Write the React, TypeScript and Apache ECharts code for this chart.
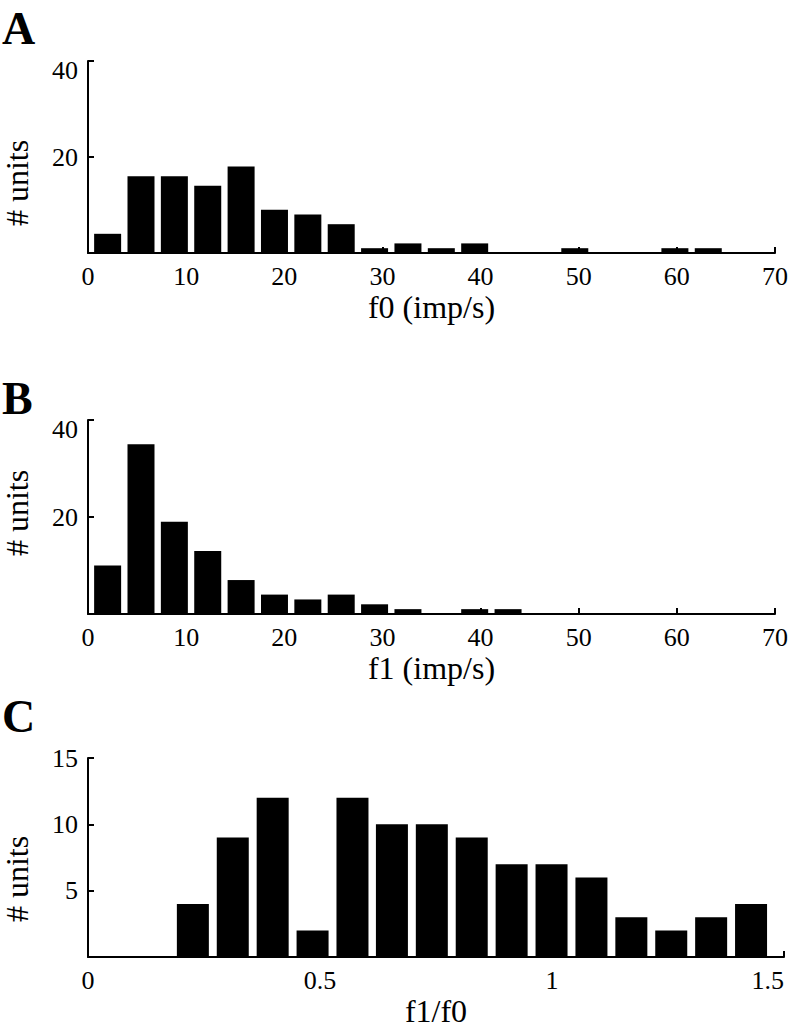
import React, { useEffect, useRef } from "react";
import * as echarts from "echarts";

// Bin centres (imp/s) for panels A and B
const rateBinCenters = [2.0, 5.4, 8.8, 12.2, 15.6, 19.0, 22.4, 25.8, 29.2, 32.6, 36.0, 39.4, 42.8, 46.2, 49.6, 53.0, 56.4, 59.8, 63.2];
// Panel A: f0 histogram counts
const f0Counts = [4, 16, 16, 14, 18, 9, 8, 6, 1, 2, 1, 2, 0, 0, 1, 0, 0, 1, 1];
// Panel B: f1 histogram counts
const f1Counts = [10, 35, 19, 13, 7, 4, 3, 4, 2, 1, 0, 1, 1, 0, 0, 0, 0, 0, 0];
// Panel C: f1/f0 bin centres and counts
const ratioBinCenters = [0.226, 0.312, 0.398, 0.484, 0.570, 0.655, 0.741, 0.827, 0.913, 0.999, 1.085, 1.171, 1.257, 1.343, 1.429];
const ratioCounts = [4, 9, 12, 2, 12, 10, 10, 9, 7, 7, 6, 3, 2, 3, 4];

const panelLetters = ["A", "B", "C"];
const xNames = ["f0 (imp/s)", "f1 (imp/s)", "f1/f0"];
const yName = "# units";

const FONT = "'Liberation Serif', 'Times New Roman', serif";

export default function App() {
  const ref = useRef<HTMLDivElement>(null);
  useEffect(() => {
    if (!ref.current) return;
    const chart = echarts.init(ref.current, null, { renderer: "svg" });
    const grids = [
      { left: 88, top: 61, width: 691, height: 192 },
      { left: 88, top: 420, width: 691, height: 194 },
      { left: 88, top: 758, width: 696, height: 199 },
    ];
    const axisLine = { show: true, lineStyle: { color: "#000", width: 2 } };
    const axisTick = { show: true, inside: true, length: 6, lineStyle: { color: "#000", width: 2 } };
    const LBL = 26;
    const xLabel = { color: "#000", fontFamily: FONT, fontSize: LBL, margin: 10 };
    const nameStyle = { color: "#000", fontFamily: FONT, fontSize: 32 };
    const yMaxLabel = (max: number) => ({
      color: "#000",
      fontFamily: FONT,
      fontSize: LBL,
      margin: 10,
      showMinLabel: false,
      formatter: (v: number) => (v === max ? `{t|${v}}` : `${v}`),
      rich: { t: { padding: [18, 0, 0, 0], fontFamily: FONT, fontSize: LBL, color: "#000" } },
    });

    const xAxes = [
      { min: 0, max: 70, interval: 10 },
      { min: 0, max: 70, interval: 10 },
      { min: 0, max: 1.5, interval: 0.5 },
    ].map((a, i) => ({
      type: "value",
      gridIndex: i,
      ...a,
      splitLine: { show: false },
      axisLine,
      axisTick,
      axisLabel: { ...xLabel, alignMaxLabel: i === 2 ? "right" : undefined },
      name: xNames[i],
      nameLocation: "middle",
      nameGap: 38,
      nameTextStyle: nameStyle,
    }));

    const yAxes = [
      { min: 0, max: 40, interval: 20, axisLabel: yMaxLabel(40) },
      { min: 0, max: 40, interval: 20, axisLabel: yMaxLabel(40) },
      {
        min: 0, max: 15, interval: 5,
        axisLabel: { color: "#000", fontFamily: FONT, fontSize: LBL, margin: 10, showMinLabel: false },
      },
    ].map((a, i) => ({
      type: "value",
      gridIndex: i,
      ...a,
      splitLine: { show: false },
      axisLine,
      axisTick,
    }));

    const mk = (xs: number[], ys: number[]) => xs.map((x, i) => [x, ys[i]]);
    const barStyle = { color: "#000" };

    const letterY = [28, 398, 716];
    const yNameY = [183, 513, 879];
    const graphics: any[] = [];
    panelLetters.forEach((l, i) => {
      graphics.push({
        type: "text",
        x: 2,
        y: letterY[i],
        style: {
          text: l,
          fill: "#000",
          fontFamily: FONT,
          fontWeight: "bold",
          fontSize: 46,
          textAlign: "left",
          textVerticalAlign: "middle",
        },
      });
      graphics.push({
        type: "text",
        x: 17,
        y: yNameY[i],
        rotation: Math.PI / 2,
        style: {
          text: yName,
          fill: "#000",
          fontFamily: FONT,
          fontSize: 32,
          textAlign: "center",
          textVerticalAlign: "middle",
        },
      });
    });

    chart.setOption({
      animation: false,
      backgroundColor: "#fff",
      textStyle: { fontFamily: FONT },
      grid: grids,
      xAxis: xAxes,
      yAxis: yAxes,
      series: [
        { type: "bar", xAxisIndex: 0, yAxisIndex: 0, data: mk(rateBinCenters, f0Counts), barWidth: 27, itemStyle: barStyle },
        { type: "bar", xAxisIndex: 1, yAxisIndex: 1, data: mk(rateBinCenters, f1Counts), barWidth: 27, itemStyle: barStyle },
        { type: "bar", xAxisIndex: 2, yAxisIndex: 2, data: mk(ratioBinCenters, ratioCounts), barWidth: 32, itemStyle: barStyle },
      ],
      graphic: graphics,
    });
    return () => chart.dispose();
  }, []);
  return (
    <div
      ref={ref}
      style={{ position: "absolute", left: 0, top: 0, width: 791, height: 1029, background: "#fff" }}
    />
  );
}
